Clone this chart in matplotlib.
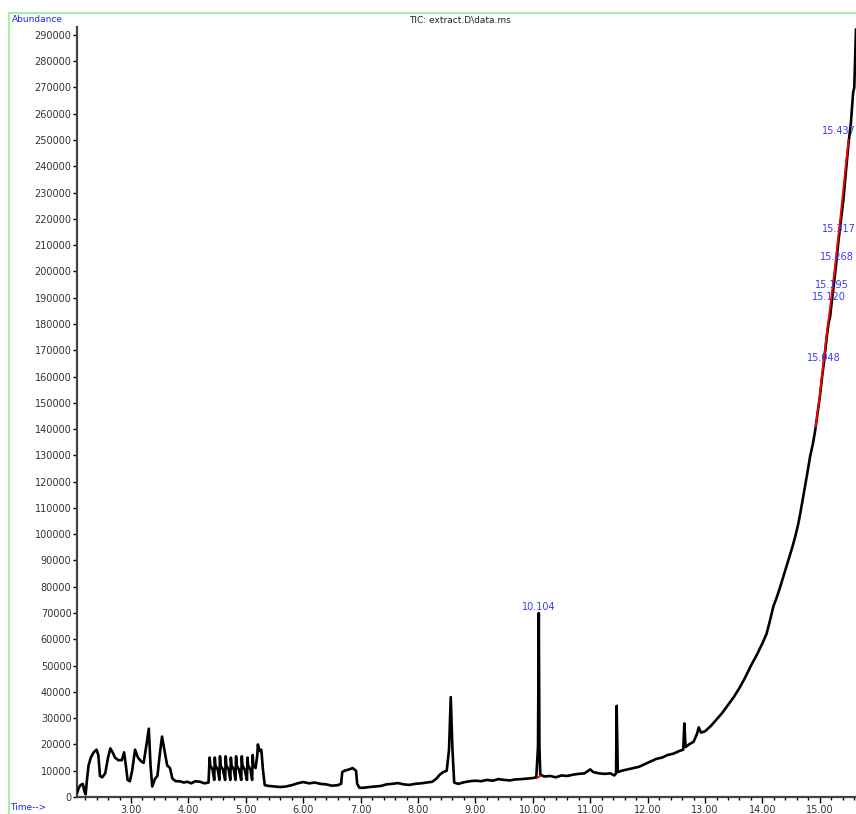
import matplotlib
matplotlib.use("Agg")
import matplotlib.pyplot as plt
import matplotlib.ticker as tic
from matplotlib.lines import Line2D

# TIC trace (time in min, abundance)
t_left = [2.06, 2.09, 2.12, 2.16, 2.19, 2.21, 2.23, 2.26, 2.30, 2.35, 2.40, 2.43, 2.46, 2.50,
          2.55, 2.60, 2.64, 2.68, 2.72, 2.78, 2.84, 2.88, 2.91, 2.94, 2.98, 3.02, 3.07, 3.12,
          3.18, 3.22, 3.27, 3.31, 3.34, 3.37, 3.42, 3.46, 3.50, 3.54, 3.59, 3.63, 3.68, 3.72,
          3.78, 3.85, 3.92, 3.98, 4.05, 4.12, 4.20, 4.28, 4.35]
a_left = [1500, 3500, 4500, 5000, 2000, 1000, 6000, 12000, 15000, 17000, 18000, 16000, 8000, 7500,
          9000, 15000, 18500, 17000, 15000, 14000, 14000, 17000, 12000, 6500, 6000, 10000, 18000, 15000,
          13500, 13000, 20000, 26000, 12000, 4000, 7000, 8000, 16000, 23000, 17000, 12000, 11000, 7000,
          6000, 6000, 5500, 5800, 5200, 6000, 5800, 5200, 5500]

# comb of sharp teeth between 4.4 and 5.2 min
t_teeth = [4.37, 4.38, 4.42, 4.45, 4.46, 4.47, 4.51, 4.54, 4.55, 4.56, 4.60, 4.64, 4.65, 4.66,
           4.70, 4.73, 4.74, 4.75, 4.79, 4.82, 4.83, 4.84, 4.88, 4.92, 4.93, 4.94, 4.98, 5.02,
           5.03, 5.04, 5.08, 5.11, 5.12, 5.13, 5.17]
a_teeth = [15000, 12000, 10500, 6500, 15000, 12000, 10500, 6500, 15500, 12000, 10500, 6500, 15500, 12000,
           10500, 6500, 15000, 12000, 10500, 6500, 15500, 12000, 10500, 6500, 15500, 12000, 10500, 6500,
           15000, 12000, 10500, 6500, 16000, 12500, 11000]

t_mid = [5.20, 5.21, 5.24, 5.27, 5.30, 5.33, 5.40, 5.50, 5.60, 5.70, 5.80, 5.90, 6.00, 6.10, 6.20,
         6.30, 6.40, 6.50, 6.60, 6.66, 6.68, 6.72, 6.80, 6.86, 6.92, 6.94, 6.98, 7.05, 7.15, 7.25,
         7.35, 7.45, 7.55, 7.65, 7.75, 7.85, 7.95, 8.05, 8.15, 8.25, 8.32, 8.38, 8.44, 8.50, 8.54,
         8.57, 8.60, 8.63, 8.70, 8.80, 8.90, 9.00, 9.10, 9.20, 9.30, 9.40, 9.50, 9.60, 9.70, 9.80,
         9.90, 10.00, 10.06, 10.09, 10.104, 10.115, 10.13, 10.20, 10.30, 10.40, 10.50, 10.60, 10.70,
         10.80, 10.90, 11.00, 11.05, 11.15, 11.25, 11.35, 11.42, 11.45, 11.46, 11.48, 11.55, 11.65,
         11.75, 11.85, 11.95, 12.05, 12.15, 12.25, 12.35, 12.45, 12.55, 12.62, 12.64, 12.66, 12.72,
         12.80, 12.86, 12.89, 12.93, 13.00]
a_mid = [16000, 20000, 17500, 18000, 10000, 4500, 4200, 4000, 3800, 4000, 4500, 5200, 5700, 5200, 5500,
         5000, 4800, 4300, 4500, 5000, 9500, 10000, 10500, 11000, 10000, 5000, 3500, 3500, 3800, 4000,
         4200, 4800, 5000, 5300, 4800, 4600, 5000, 5200, 5500, 5800, 7000, 8500, 9500, 10000, 18000,
         38000, 18000, 5500, 5000, 5600, 6000, 6200, 6000, 6500, 6200, 6800, 6500, 6300, 6700, 6800,
         7000, 7200, 7500, 19000, 70000, 19000, 8500, 7800, 8000, 7500, 8200, 8000, 8500,
         8800, 9000, 10500, 9500, 9000, 8800, 9000, 8200, 9000, 34700, 9500, 10000, 10500,
         11000, 11500, 12500, 13500, 14500, 15000, 16000, 16500, 17500, 18000, 28000, 19000, 20000,
         21000, 24000, 26500, 24500, 25000]

t_right = [13.10, 13.20, 13.30, 13.40, 13.50, 13.60, 13.70, 13.80, 13.90, 14.00, 14.07, 14.13, 14.19,
           14.25, 14.31, 14.38, 14.45, 14.52, 14.57, 14.62, 14.66, 14.70, 14.74, 14.78, 14.83, 14.88,
           14.92, 14.96, 15.00, 15.04, 15.08, 15.12, 15.15, 15.18, 15.21, 15.24, 15.28, 15.32, 15.36,
           15.41, 15.45, 15.50, 15.54, 15.56, 15.58, 15.60, 15.62, 15.63]
a_right = [27000, 29500, 32000, 35000, 38000, 41500, 45500, 50000, 54000, 58500, 62000, 67000, 72500,
           76000, 80000, 85000, 90000, 95000, 99000, 103500, 108000, 113000, 118000, 123000, 129500, 134500,
           139600, 146000, 152300, 160000, 167000, 175000, 180000, 183000, 189000, 194200, 202000, 210700, 218000,
           227200, 237000, 248700, 256300, 262000, 268000, 270000, 285000, 292000]

# integration baselines (red)
t_base1 = [10.07, 10.10, 10.13]
a_base1 = [7200, 7600, 8000]
t_base2 = [14.93, 15.00, 15.06, 15.13, 15.20, 15.28, 15.36, 15.44, 15.50]
a_base2 = [141000, 153000, 165000, 178000, 190000, 205000, 221000, 238000, 250000]

# peak labels
peak_names = ["10.104", "15.048", "15.120", "15.195", "15.268", "15.317", "15.437"]
peak_t = [10.104, 15.07, 15.16, 15.21, 15.30, 15.34, 15.62]
peak_a = [72300, 167000, 190300, 194800, 205500, 216100, 253400]
peak_ha = ["center", "center", "center", "center", "center", "center", "right"]

time = t_left + t_teeth + t_mid + t_right
abund = a_left + a_teeth + a_mid + a_right

fig = plt.figure(figsize=(8.56, 8.14), dpi=100)
ax = fig.add_axes([77/856, 17/814, 1 - 77/856, (797 - 27)/814])

ax.plot(time, abund, color="black", lw=1.9, zorder=3)
ax.plot(t_base1, a_base1, color="red", lw=1.3, zorder=4)
ax.plot(t_base2, a_base2, color="red", lw=1.3, zorder=4)

for name, x, y, ha in zip(peak_names, peak_t, peak_a, peak_ha):
    ax.text(x, y, name, color="#3a3aff", fontsize=7, ha=ha, va="center", zorder=5)

ax.set_xlim(2.059, 15.63)
ax.set_ylim(0, 293000)
ax.yaxis.set_major_locator(tic.MultipleLocator(10000))
ax.yaxis.set_major_formatter(tic.FormatStrFormatter("%d"))
ax.xaxis.set_major_locator(tic.MultipleLocator(1))
ax.xaxis.set_minor_locator(tic.MultipleLocator(0.2))
ax.xaxis.set_major_formatter(tic.FormatStrFormatter("%.2f"))
ax.tick_params(axis="y", direction="out", length=3, width=1, pad=1, labelsize=7, labelcolor="#333333")
ax.tick_params(axis="x", which="major", direction="out", length=4, width=1, pad=2, labelsize=7, labelcolor="#333333")
ax.tick_params(axis="x", which="minor", direction="out", length=2.5, width=1)

for s in ["top", "right"]:
    ax.spines[s].set_visible(False)
for s in ["left", "bottom"]:
    ax.spines[s].set_color("#444444")
    ax.spines[s].set_linewidth(1.6)

# green frame of the window
fig.add_artist(Line2D([9/856, 9/856], [0, 1 - 13/814], color="#a8f0a8", lw=1.5))
fig.add_artist(Line2D([9/856, 1], [1 - 13/814, 1 - 13/814], color="#a8f0a8", lw=1.5))

fig.text(12/856, 1 - 19/814, "Abundance", color="#2020ff", fontsize=6.5, ha="left", va="center")
fig.text(460/856, 1 - 20/814, "TIC: extract.D\\data.ms", color="#222222", fontsize=6.5, ha="center", va="center")
fig.text(10/856, 1 - 807/814, "Time-->", color="#2020ff", fontsize=6.5, ha="left", va="center")

fig.savefig("out.png", dpi=100)
